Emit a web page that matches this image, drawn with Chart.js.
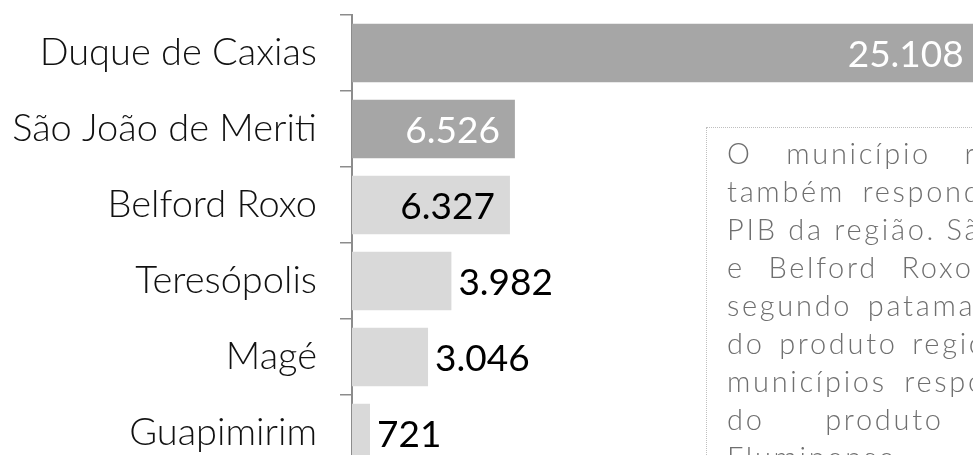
<!DOCTYPE html>
<html>
<head>
<meta charset="utf-8">
<script src="https://cdn.jsdelivr.net/npm/chart.js@4.4.0/dist/chart.umd.min.js"></script>
<style>
  body { margin: 0; background: #fff; }
  #wrap { position: relative; width: 973px; height: 455px; overflow: hidden; background: #fff; }
  #holder { position: absolute; left: 0; top: 0; width: 1000px; height: 480px; }
  #nota {
    position: absolute; left: 706px; top: 127px; width: 440px; height: 400px;
    border: 1px dotted #bfbfbf; padding: 6px 0 0 20px; box-sizing: border-box;
    font-family: Lato, sans-serif; font-weight: 300; font-size: 29px; line-height: 38px;
    color: #6f6f6f; letter-spacing: 2.7px;
  }
  #nota div { white-space: nowrap; }
</style>
</head>
<body>
<div id="wrap">
  <div id="holder"><canvas id="pibChart" width="1000" height="480"></canvas></div>
  <div id="nota">
    <div style="word-spacing:23px">O município referência</div>
    <div style="word-spacing:7px">também responde por 55% do</div>
    <div>PIB da região. São João de Meriti</div>
    <div style="word-spacing:13px">e Belford Roxo formam o</div>
    <div style="word-spacing:5px">segundo patamar, com 28%</div>
    <div style="word-spacing:4px">do produto regional. Os demais</div>
    <div style="word-spacing:7px">municípios respondem por 17%</div>
    <div style="word-spacing:50px">do produto regional</div>
    <div>Fluminense.</div>
  </div>
</div>
<script>
const municipios = ['Duque de Caxias', 'São João de Meriti', 'Belford Roxo', 'Teresópolis', 'Magé', 'Guapimirim'];
const pib = [25108, 6526, 6327, 3982, 3046, 721];

// milhar com ponto, como no original
function fmt(v) {
    return String(v).replace(/\B(?=(\d{3})+(?!\d))/g, '.');
}

const rotulos = {
    id: 'rotulos',
    afterDatasetsDraw(chart) {
        const ctx = chart.ctx;
        const meta = chart.getDatasetMeta(0);
        ctx.save();
        ctx.font = '400 37px Lato, sans-serif';
        ctx.textBaseline = 'middle';
        meta.data.forEach((bar, i) => {
            const largura = bar.x - bar.base;
            const txt = fmt(pib[i]);
            if (largura > 140) {
                ctx.textAlign = 'right';
                ctx.fillStyle = i < 2 ? '#ffffff' : '#000000';
                ctx.fillText(txt, bar.x - 15, bar.y + 2);
            } else {
                ctx.textAlign = 'left';
                ctx.fillStyle = '#000000';
                ctx.fillText(txt, bar.x + 7, bar.y + 2);
            }
        });
        ctx.restore();
    }
};

const ctx = document.getElementById('pibChart').getContext('2d');
new Chart(ctx, {
    type: 'bar',
    data: {
        labels: municipios,
        datasets: [{
            data: pib,
            backgroundColor: ['#a6a6a6', '#a6a6a6', '#d9d9d9', '#d9d9d9', '#d9d9d9', '#d9d9d9'],
            borderWidth: 0,
            barPercentage: 0.77,
            categoryPercentage: 1
        }]
    },
    options: {
        indexAxis: 'y',
        responsive: false,
        animation: false,
        devicePixelRatio: 1,
        layout: { padding: { top: 15, bottom: 9, left: 0, right: 0 } },
        plugins: {
            legend: { display: false },
            tooltip: { enabled: false }
        },
        scales: {
            x: { display: false, min: 0, max: 25960 },
            y: {
                afterFit(scale) {
                    scale.width = 352;
                    scale.paddingTop = 0;
                    scale.paddingBottom = 0;
                },
                border: { display: true, color: '#8c8c8c', width: 2 },
                grid: { drawOnChartArea: false, color: '#8c8c8c', tickLength: 12, lineWidth: 1.5 },
                ticks: {
                    padding: 23,
                    color: '#111111',
                    font: { family: 'Lato', weight: 300, size: 38 }
                }
            }
        }
    },
    plugins: [rotulos]
});
</script>
</body>
</html>
